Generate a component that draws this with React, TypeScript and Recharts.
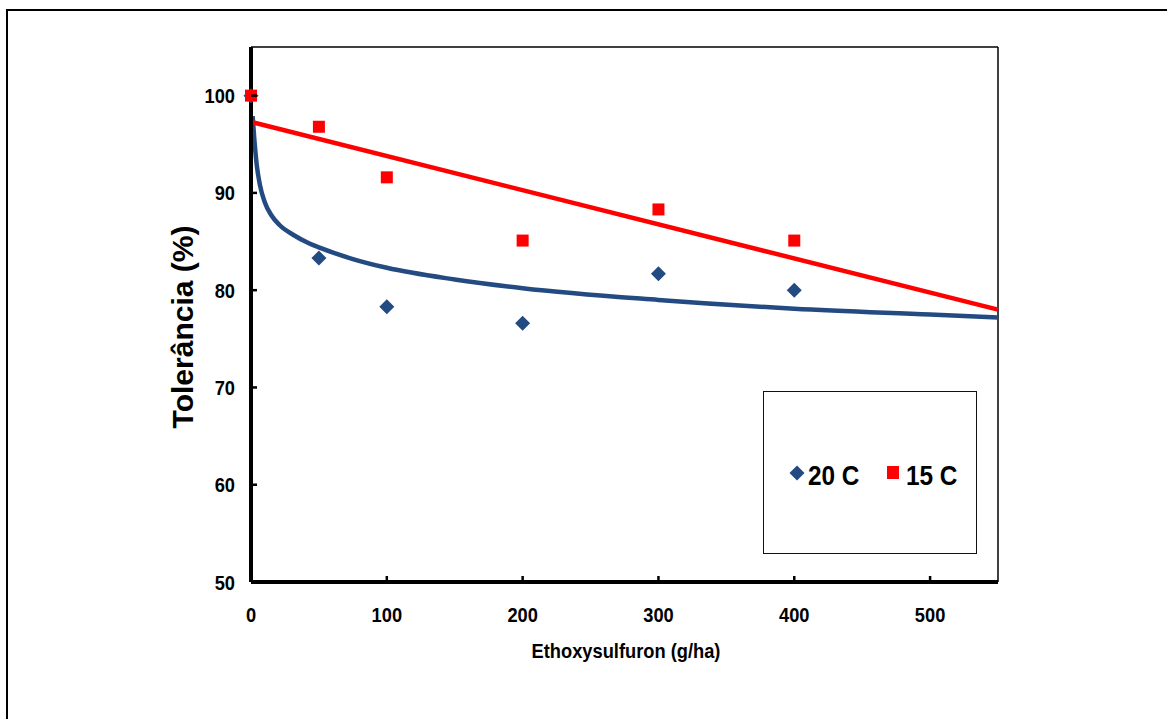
import { ComposedChart, Line, Scatter, XAxis, YAxis, ReferenceLine, Legend } from 'recharts';

// Cores como no gráfico original (Excel)
const AZUL = '#234B82';
const VERMELHO = '#FF0000';
const FONTE = '"Liberation Sans", Arial, sans-serif';
// o original usa texto um pouco estreitado
const ESTREITO = 0.87;

// Doses de ethoxysulfuron (g/ha) e tolerância observada (%)
const DOSES = [0, 50, 100, 200, 300, 400];
const TOL_20C = [100, 83.3, 78.3, 76.6, 81.7, 80.0];
const TOL_15C = [100, 96.8, 91.6, 85.1, 88.3, 85.1];

// Linhas de tendência (20 C curva, 15 C reta)
const CURVA_20C_X = [1.2, 2.4, 4.2, 6.6, 10, 15, 21, 31, 43, 50, 75, 100, 150, 200, 300, 400, 500, 550];
const CURVA_20C_Y = [97.9, 95.6, 92.9, 90.8, 89.1, 87.7, 86.7, 85.7, 84.8, 84.4, 83.2, 82.3, 81.1, 80.2, 79.0, 78.1, 77.5, 77.2];
const RETA_15C_X = [0, 550];
const RETA_15C_Y = [97.3, 78.0];

const X_TICKS = [0, 100, 200, 300, 400, 500];
const Y_TICKS = [50, 60, 70, 80, 90, 100];

const pontos20 = DOSES.map((x, i) => ({ x, y: TOL_20C[i] }));
const pontos15 = DOSES.map((x, i) => ({ x, y: TOL_15C[i] }));
const curva20 = CURVA_20C_X.map((x, i) => ({ x, y: CURVA_20C_Y[i] }));
const reta15 = RETA_15C_X.map((x, i) => ({ x, y: RETA_15C_Y[i] }));

const Diamante = (p: any) => (
  <path
    d={`M${p.cx},${p.cy - 7.5}L${p.cx + 7.5},${p.cy}L${p.cx},${p.cy + 7.5}L${p.cx - 7.5},${p.cy}Z`}
    fill={AZUL}
  />
);
const Quadrado = (p: any) => <rect x={p.cx - 6} y={p.cy - 6} width={12} height={12} fill={VERMELHO} />;

// Marcas de escala para dentro, como no Excel
function YTick({ x, y, payload }: any) {
  return (
    <g>
      {payload.value !== 50 && <line x1={x} x2={x + 6} y1={y} y2={y} stroke="#000" strokeWidth={2.5} />}
      <text
        transform={`translate(${x - 16},${y}) scale(${ESTREITO},1)`}
        dy="0.36em"
        textAnchor="end"
        fontFamily={FONTE}
        fontWeight="bold"
        fontSize={21}
        fill="#000"
      >
        {payload.value}
      </text>
    </g>
  );
}

function XTick({ x, y, payload }: any) {
  return (
    <g>
      {payload.value !== 0 && <line x1={x} x2={x} y1={y} y2={y - 6} stroke="#000" strokeWidth={2.5} />}
      <text
        transform={`translate(${x},${y + 40}) scale(${ESTREITO},1)`}
        textAnchor="middle"
        fontFamily={FONTE}
        fontWeight="bold"
        fontSize={21}
        fill="#000"
      >
        {payload.value}
      </text>
    </g>
  );
}

const textoLegenda = {
  position: 'absolute' as const,
  top: 70,
  fontSize: 28,
  lineHeight: 1,
  whiteSpace: 'nowrap' as const,
  transform: `scaleX(${ESTREITO})`,
  transformOrigin: 'left top',
};

function LegendaBox() {
  return (
    <div
      style={{
        position: 'relative',
        width: 214,
        height: 163,
        boxSizing: 'border-box',
        border: '1.5px solid #111',
        background: '#fff',
        fontFamily: FONTE,
        fontWeight: 'bold',
        color: '#000',
      }}
    >
      <svg width={16} height={16} style={{ position: 'absolute', left: 25, top: 73 }}>
        <path d="M8,0.5L15.5,8L8,15.5L0.5,8Z" fill={AZUL} />
      </svg>
      <span style={{ ...textoLegenda, left: 44 }}>20 C</span>
      <svg width={12} height={13} style={{ position: 'absolute', left: 123, top: 74 }}>
        <rect x={0} y={0} width={12} height={13} fill={VERMELHO} />
      </svg>
      <span style={{ ...textoLegenda, left: 142 }}>15 C</span>
    </div>
  );
}

export default function App() {
  return (
    <div style={{ position: 'absolute', left: 0, top: 0, width: 1167, height: 719, overflow: 'hidden', background: '#fff' }}>
      {/* moldura externa */}
      <div style={{ position: 'absolute', left: 6, top: 9, width: 1300, height: 900, borderLeft: '2px solid #000', borderTop: '2px solid #000' }} />
      <div style={{ position: 'absolute', left: 0, top: 0 }}>
        <ComposedChart width={1167} height={719} margin={{ top: 47, right: 169, bottom: 107, left: 191 }}>
          <XAxis
            dataKey="x"
            type="number"
            domain={[0, 550]}
            ticks={X_TICKS}
            height={30}
            tickSize={0}
            tickMargin={0}
            tickLine={false}
            tick={<XTick />}
            axisLine={{ stroke: '#000', strokeWidth: 4 }}
          />
          <YAxis
            dataKey="y"
            type="number"
            domain={[50, 105]}
            ticks={Y_TICKS}
            width={60}
            tickSize={0}
            tickMargin={0}
            tickLine={false}
            tick={<YTick />}
            axisLine={{ stroke: '#000', strokeWidth: 4 }}
          />
          {/* borda superior e direita da área de plotagem */}
          <ReferenceLine y={105} stroke="#000" strokeWidth={1.5} />
          <ReferenceLine x={550} stroke="#000" strokeWidth={1.5} />

          <Line data={curva20} dataKey="y" type="monotone" stroke={AZUL} strokeWidth={4.5} dot={false} isAnimationActive={false} legendType="none" />
          <Line data={reta15} dataKey="y" type="linear" stroke={VERMELHO} strokeWidth={4.5} dot={false} isAnimationActive={false} legendType="none" />
          <Scatter data={pontos20} dataKey="y" name="20 C" shape={Diamante} isAnimationActive={false} />
          <Scatter data={pontos15} dataKey="y" name="15 C" shape={Quadrado} isAnimationActive={false} />

          <Legend
            layout="horizontal"
            verticalAlign="middle"
            align="center"
            content={<LegendaBox />}
            wrapperStyle={{ position: 'absolute', left: 763, top: 391, width: 214, height: 163 }}
          />
        </ComposedChart>
      </div>
      <div
        style={{
          position: 'absolute',
          left: 183,
          top: 327,
          transform: 'translate(-50%, -50%) rotate(-90deg)',
          fontFamily: FONTE,
          fontWeight: 'bold',
          fontSize: 30,
          whiteSpace: 'nowrap',
          lineHeight: 1,
        }}
      >
        Tolerância (%)
      </div>
      <div
        style={{
          position: 'absolute',
          left: 626,
          top: 640,
          transform: `translateX(-50%) scaleX(${ESTREITO})`,
          fontFamily: FONTE,
          fontWeight: 'bold',
          fontSize: 21,
          whiteSpace: 'nowrap',
          lineHeight: 1,
        }}
      >
        Ethoxysulfuron (g/ha)
      </div>
    </div>
  );
}
